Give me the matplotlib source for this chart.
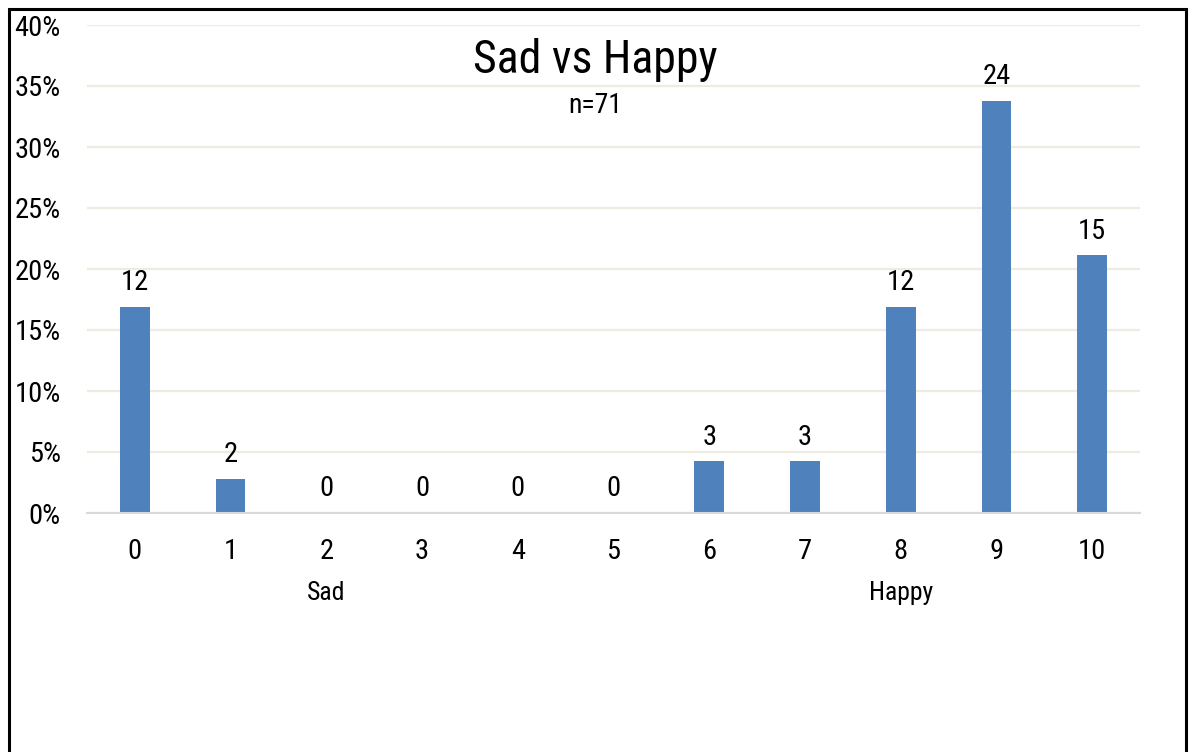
import matplotlib
matplotlib.use("Agg")
import matplotlib.pyplot as plt
from matplotlib.patches import Rectangle
import numpy as np

# survey answers: 0 = sad ... 10 = happy
scores = ["0", "1", "2", "3", "4", "5", "6", "7", "8", "9", "10"]
counts = [12, 2, 0, 0, 0, 0, 3, 3, 12, 24, 15]
n_total = 71
end_labels = {2: "Sad", 8: "Happy"}

shares = np.array(counts) / n_total

plt.rcParams["font.family"] = ["Roboto Condensed", "Liberation Sans", "DejaVu Sans"]

W, H = 1191, 752
fig = plt.figure(figsize=(W / 100, H / 100), dpi=100)
ax = fig.add_axes([87 / W, (H - 513) / H, (1140 - 87) / W, (513 - 25) / H])

x = np.arange(len(scores))
ax.bar(x, shares, width=0.31, color="#4F81BD", zorder=3)

ax.set_xlim(-0.5, len(scores) - 0.5)
ax.set_ylim(0, 0.40)
yt = np.arange(0, 0.401, 0.05)
ax.set_yticks(yt)
ax.set_yticklabels([f"{int(round(v * 100))}%" for v in yt])
ax.set_xticks(x)
ax.set_xticklabels(scores)

ax.grid(axis="y", color="#EEECE1", lw=1.6, zorder=0)
for s in ["left", "right", "top"]:
    ax.spines[s].set_visible(False)
ax.spines["bottom"].set_color("#D9D9D9")
ax.spines["bottom"].set_linewidth(1.5)
ax.spines["bottom"].set_zorder(4)
ax.tick_params(axis="both", length=0, labelsize=20.5, colors="black")
ax.tick_params(axis="y", pad=19)
ax.tick_params(axis="x", pad=18)

# count labels above each bar
for xi, c, s in zip(x, counts, shares):
    ax.annotate(str(c), xy=(xi, s), xytext=(0, 12), textcoords="offset points",
                ha="center", va="baseline", fontsize=20.5)

# word anchors under the scale
for xi, word in end_labels.items():
    ax.annotate(word, xy=(xi, 0), xycoords=("data", "axes fraction"),
                xytext=(0, -62.5), textcoords="offset points",
                ha="center", va="baseline", fontsize=18.5)

fig.text(0.5, 1 - 73 / H, "Sad vs Happy", ha="center", va="baseline", fontsize=33)
fig.text(0.5, 1 - 113 / H, f"n={n_total}", ha="center", va="baseline", fontsize=20)

# outer frame
fig.patches.append(Rectangle((9 / W, -0.1), (1186 - 9) / W, 1.1 - 9 / H,
                             transform=fig.transFigure, fill=False,
                             edgecolor="black", lw=2.2, clip_on=False))

fig.savefig("out.png", dpi=100)
